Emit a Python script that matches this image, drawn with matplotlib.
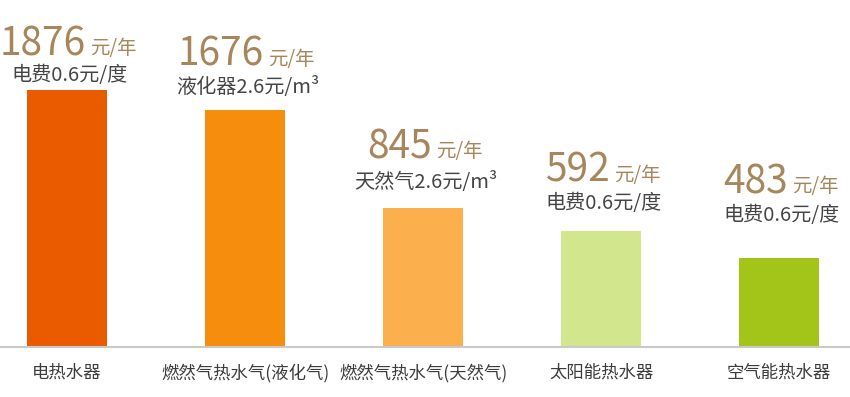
import numpy as np
import matplotlib
matplotlib.use('Agg')
import matplotlib.pyplot as plt

plt.rcParams['font.family'] = ['Noto Sans CJK SC', 'DejaVu Sans']

# 数据
categories = ['电热水器', '燃然气热水气(液化气)', '燃然气热水气(天然气)', '太阳能热水器', '空气能热水器']
costs = [1876, 1676, 845, 592, 483]
notes = ['电费0.6元/度', '液化器2.6元/m³', '天然气2.6元/m³', '电费0.6元/度', '电费0.6元/度']
bar_heights = [257, 237, 139, 116, 89]   # 图上柱子的高度(像素读数)
colors = ['#EA5B00', '#F68D0C', '#FBAF4D', '#D2E68E', '#A3C519']

# 标签离柱顶的距离(像素), 布局用
note_gap = [15, 22, 26, 27, 42]
num_gap = [35, 44, 50, 49, 65]

W, H = 850, 397
fig = plt.figure(figsize=(W / 100, H / 100), dpi=100)
ax = fig.add_axes([0, 50 / H, 1, 347 / H])

x = np.arange(len(categories))
step = 178.0
ax.bar(x, bar_heights, width=80 / step, color=colors, zorder=2)
ax.set_xlim(-67 / step, (W - 67) / step)
ax.set_ylim(0, 347)

for s in ['top', 'right', 'left']:
    ax.spines[s].set_visible(False)
ax.spines['bottom'].set_color('#C9C9C9')
ax.spines['bottom'].set_linewidth(1.5)
ax.set_yticks([])
ax.set_xticks(x)
ax.set_xticklabels(categories, fontsize=12.5, color='#3C3C3C')
ax.tick_params(axis='x', length=0, pad=12)

tan = '#A6865A'
for i in range(len(x)):
    top = bar_heights[i]
    n = str(costs[i])
    split = (20 * len(n) - 52) / 2 + 5
    ax.annotate(n, (x[i], top), xytext=(split, num_gap[i]), textcoords='offset pixels',
                ha='right', va='baseline', fontsize=28, color=tan)
    ax.annotate('元/年', (x[i], top), xytext=(split + 4, num_gap[i] + 1), textcoords='offset pixels',
                ha='left', va='baseline', fontsize=14, color=tan)
    ax.annotate(notes[i], (x[i], top), xytext=(3, note_gap[i]), textcoords='offset pixels',
                ha='center', va='center', fontsize=14.5, color='#454545')

plt.savefig('out.png', dpi=100)
